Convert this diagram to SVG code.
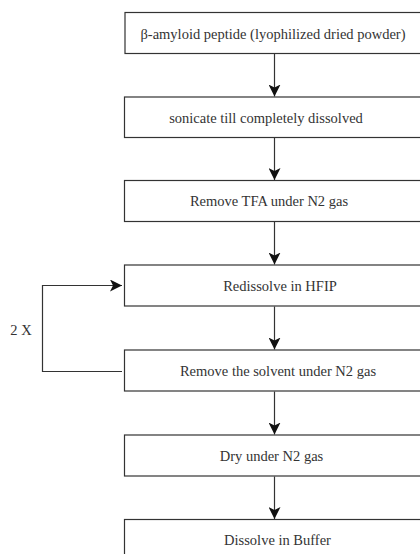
<svg xmlns="http://www.w3.org/2000/svg" width="420" height="554" viewBox="0 0 420 554">
<style>
.box{fill:#fff;stroke:#333;stroke-width:1.2}
.lbl{font-size:14.5px;fill:#333;text-anchor:middle}
.conn{fill:none;stroke:#333;stroke-width:1.2}
</style>
<defs>
<marker id="ah" viewBox="0 0 12 12" refX="12" refY="6" markerWidth="12" markerHeight="12" markerUnits="userSpaceOnUse" orient="auto">
<path d="M0,0 L12,6 L0,12 L3,6 Z" fill="#111"/>
</marker>
</defs>
<rect width="420" height="554" fill="#fff"/>
<g id="connectors">
<path class="conn" d="M274.5,53.5 V96.5" marker-end="url(#ah)"/>
<path class="conn" d="M274.5,137.5 V180" marker-end="url(#ah)"/>
<path class="conn" d="M274.5,221.5 V264.5" marker-end="url(#ah)"/>
<path class="conn" d="M274.5,306.5 V349.5" marker-end="url(#ah)"/>
<path class="conn" d="M274.5,391.5 V434.5" marker-end="url(#ah)"/>
<path class="conn" d="M274.5,476.5 V519" marker-end="url(#ah)"/>
<path class="conn" d="M122,371.5 H42.5 V285.5 H122" marker-end="url(#ah)"/>
</g>
<g font-family="'Liberation Serif', 'Times New Roman', 'DejaVu Serif', serif">
<g id="n1"><rect class="box" x="125" y="12.5" width="300" height="41"/><text class="lbl" x="273" y="38.5">β-amyloid peptide (lyophilized dried powder)</text></g>
<g id="n2"><rect class="box" x="124.5" y="97" width="300" height="40.5"/><text class="lbl" x="266" y="122.5">sonicate till completely dissolved</text></g>
<g id="n3"><rect class="box" x="124.5" y="180.5" width="300" height="41"/><text class="lbl" x="269" y="206">Remove TFA under N2 gas</text></g>
<g id="n4"><rect class="box" x="124.5" y="265" width="300" height="41"/><text class="lbl" x="280" y="290.5">Redissolve in HFIP</text></g>
<g id="n5"><rect class="box" x="124.5" y="350" width="300" height="41"/><text class="lbl" x="278" y="375.5">Remove the solvent under N2 gas</text></g>
<g id="n6"><rect class="box" x="124.5" y="435" width="300" height="41"/><text class="lbl" x="271.5" y="460.5">Dry under N2 gas</text></g>
<g id="n7"><rect class="box" x="124.5" y="519.5" width="300" height="41"/><text class="lbl" x="277.5" y="545">Dissolve in Buffer</text></g>
<text class="lbl" x="21" y="335">2 X</text>
</g>
</svg>
